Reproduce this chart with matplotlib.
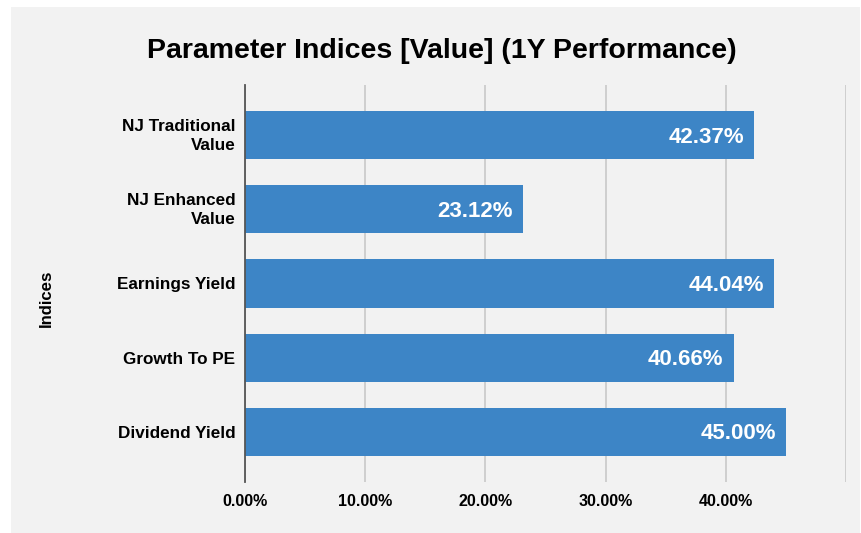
import matplotlib
matplotlib.use("Agg")
import matplotlib.pyplot as plt
from matplotlib.patches import Rectangle
from matplotlib.transforms import ScaledTranslation

categories = ["NJ Traditional\nValue", "NJ Enhanced\nValue", "Earnings Yield", "Growth To PE", "Dividend Yield"]
values = [42.37, 23.12, 44.04, 40.66, 45.00]
xticks = [0, 10, 20, 30, 40, 50]
xtick_labels = ["0.00%", "10.00%", "20.00%", "30.00%", "40.00%", ""]

plt.rcParams['font.family'] = ['Liberation Sans', 'DejaVu Sans']

W, H = 861, 533
fig = plt.figure(figsize=(W/100, H/100), dpi=100)
fig.patch.set_facecolor("white")
bg = "#f2f2f2"
fig.patches.append(Rectangle((11/W, 0), 1 - 12/W, 1 - 7/H, transform=fig.transFigure,
                             facecolor=bg, edgecolor="none", zorder=-10))

ax = fig.add_axes([245/W, 1 - 482/H, (846-245)/W, (482-85)/H])
ax.set_facecolor(bg)
ax.patch.set_alpha(0)

ypos = list(range(len(categories)))
ax.barh(ypos, values, height=0.65, color="#3d85c6", zorder=3)
down = ScaledTranslation(0, -2/100, fig.dpi_scale_trans)
for y, v in zip(ypos, values):
    ax.text(v - 0.85, y, f"{v:.2f}%", ha="right", va="center", color="white",
            fontsize=16, fontweight="bold", zorder=4, transform=ax.transData + down)

ax.set_xlim(0, 50)
ax.set_ylim(4.675, -0.675)
ax.set_xticks(xticks)
ax.set_xticklabels(xtick_labels, fontsize=11.5, fontweight="bold")
ax.set_yticks(ypos)
ax.set_yticklabels(categories, fontsize=12.3, fontweight="bold", linespacing=1.35)
ax.tick_params(axis="both", length=0)
ax.tick_params(axis="x", pad=9)
ax.tick_params(axis="y", pad=7)
up = ScaledTranslation(0, 3/100, fig.dpi_scale_trans)
for lbl in ax.get_yticklabels():
    if "\n" in lbl.get_text():
        lbl.set_transform(lbl.get_transform() + up)
ax.grid(axis="x", color="#c8c8c8", linewidth=1.2, zorder=0)
for s in ["top", "right", "bottom"]:
    ax.spines[s].set_visible(False)
ax.spines["left"].set_color("#555555")
ax.spines["left"].set_linewidth(1.3)
ax.spines["left"].set_zorder(5)

fig.text(46/W, 1 - 298/H, "Indices", rotation=90, ha="center", va="center",
         fontsize=12.1, fontweight="bold")
fig.text(442/W, 1 - 51/H, "Parameter Indices [Value] (1Y Performance)", ha="center",
         va="center", fontsize=20.5, fontweight="bold")

fig.savefig("out.png", dpi=100, facecolor=fig.get_facecolor())
